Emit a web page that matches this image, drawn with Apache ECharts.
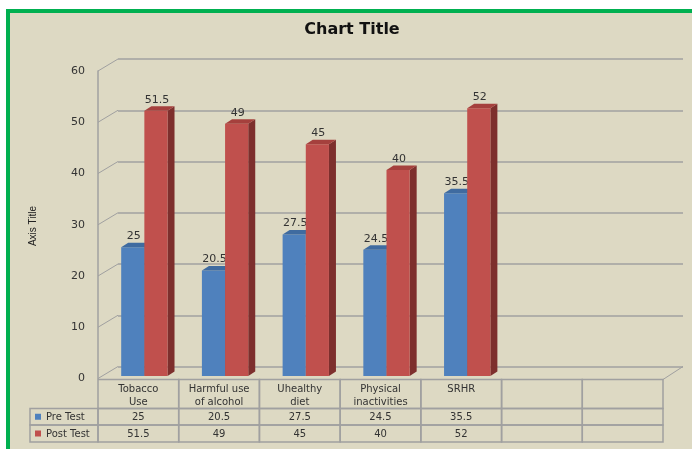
<!DOCTYPE html>
<html>
<head>
<meta charset="utf-8">
<script src="https://cdn.jsdelivr.net/npm/echarts@6/dist/echarts.min.js"></script>
<style>
html,body{margin:0;padding:0;background:#ffffff;}
#chart{width:692px;height:449px;}
</style>
</head>
<body>
<div id="chart"></div>
<script>
// ---- data ----
const categories = ["Tobacco\nUse", "Harmful use\nof alcohol", "Uhealthy\ndiet", "Physical\ninactivities", "SRHR", "", ""];
const seriesNames = ["Pre Test", "Post Test"];
const preTest = [25, 20.5, 27.5, 24.5, 35.5];
const postTest = [51.5, 49, 45, 40, 52];
const yTicks = [0, 10, 20, 30, 40, 50, 60];
const chartTitle = "Chart Title";
const axisTitle = "Axis Title";

// ---- style ----
const BG = '#ddd9c3';
const GRID = '#a0a0a0';
const TEXT = '#333333';
const NUMFONT = 'DejaVu Sans';
const DX = 20, DY = -12;       // wall depth offset
const BDX = 7, BDY = -4.5;     // bar depth offset
const colors = [
  {front: '#4f81bd', top: '#3f6ba0', side: '#2f5587'},
  {front: '#c0504d', top: '#a5403d', side: '#7d2f2d'}
];
const dataSets = [preTest, postTest];

const chart = echarts.init(document.getElementById('chart'), null, {renderer: 'canvas'});

function barRender(sIdx) {
  return function (params, api) {
    const v = api.value(1);
    const c = api.coord([api.value(0), v]);
    const base = api.coord([api.value(0), 0]);
    const band = api.size([1, 0])[0];
    const bw = band * 0.287;
    const x0 = sIdx === 0 ? c[0] - bw : c[0];
    const x1 = x0 + bw;
    const yT = c[1], y0 = base[1];
    const col = colors[sIdx];
    return {
      type: 'group',
      children: [
        {type: 'polygon', shape: {points: [[x1, yT], [x1 + BDX, yT + BDY], [x1 + BDX, y0 + BDY], [x1, y0]]}, style: {fill: col.side}},
        {type: 'rect', shape: {x: x0, y: yT, width: bw, height: y0 - yT}, style: {fill: col.front}},
        {type: 'polygon', shape: {points: [[x0, yT], [x0 + BDX, yT + BDY], [x1 + BDX, yT + BDY], [x1, yT]]}, style: {fill: col.top}},
        {type: 'text', style: {text: String(v), x: (x0 + x1) / 2 + 1, y: yT + BDY - 1, align: 'center', verticalAlign: 'bottom',
          font: '11px "' + NUMFONT + '"', fill: TEXT}}
      ]
    };
  };
}

function wallRender(params, api) {
  const v = api.value(0);
  const p = api.coord([0, v]);
  const cs = params.coordSys;
  const x = cs.x;
  const children = [
    {type: 'line', shape: {x1: x, y1: p[1], x2: x + DX, y2: p[1] + DY}, style: {stroke: GRID, lineWidth: 1}}
  ];
  if (v === 0) {
    const xr = cs.x + cs.width;
    children.push({type: 'line', shape: {x1: xr, y1: p[1] + 1, x2: xr + DX, y2: p[1] + DY}, style: {stroke: GRID, lineWidth: 1}});
  }
  return {type: 'group', children: children};
}

function tableRender(params, api) {
  const i = api.value(0);
  const c = api.coord([i, 0]);
  const band = api.size([1, 0])[0];
  const xl = c[0] - band / 2, xr = c[0] + band / 2;
  const yH = c[1] + 1, yR1 = yH + 29, yR2 = yR1 + 16.5, yR3 = yR2 + 17;
  const ls = {stroke: GRID, lineWidth: 1.5, fill: null};
  const font = '10px "' + NUMFONT + '"';
  const ch = [
    {type: 'rect', shape: {x: xl, y: yH, width: band, height: yR1 - yH}, style: ls},
    {type: 'rect', shape: {x: xl, y: yR1, width: band, height: yR2 - yR1}, style: ls},
    {type: 'rect', shape: {x: xl, y: yR2, width: band, height: yR3 - yR2}, style: ls},
    {type: 'text', style: {text: categories[i], x: c[0], y: yH + 3, align: 'center', verticalAlign: 'top', font: font, fill: TEXT, lineHeight: 13}}
  ];
  dataSets.forEach(function (arr, k) {
    const val = arr[i];
    if (val !== undefined) {
      ch.push({type: 'text', style: {text: String(val), x: c[0], y: (k === 0 ? (yR1 + yR2) / 2 : (yR2 + yR3) / 2) + 0.5,
        align: 'center', verticalAlign: 'middle', font: font, fill: TEXT}});
    }
  });
  if (i === 0) {
    const lx = 30;
    ch.push({type: 'rect', shape: {x: lx, y: yR1, width: xl - lx, height: yR2 - yR1}, style: ls});
    ch.push({type: 'rect', shape: {x: lx, y: yR2, width: xl - lx, height: yR3 - yR2}, style: ls});
    seriesNames.forEach(function (nm, k) {
      const yc = k === 0 ? (yR1 + yR2) / 2 : (yR2 + yR3) / 2;
      ch.push({type: 'rect', shape: {x: 35, y: yc - 3, width: 6, height: 6}, style: {fill: colors[k].front}});
      ch.push({type: 'text', style: {text: nm, x: 46, y: yc + 0.5, align: 'left', verticalAlign: 'middle', font: font, fill: TEXT}});
    });
  }
  return {type: 'group', children: ch};
}

const catIdx = categories.map(function (_, i) { return [i]; });

const option = {
  backgroundColor: '#ffffff',
  animation: false,
  graphic: [
    {type: 'rect', z: -10, shape: {x: 8, y: 11, width: 700, height: 450}, style: {fill: BG, stroke: '#00b050', lineWidth: 4}, silent: true},
    {type: 'text', z: 10, style: {text: chartTitle, x: 352, y: 30, align: 'center', verticalAlign: 'middle', font: 'bold 16px "DejaVu Sans"', fill: '#111'}},
    {type: 'text', z: 10, rotation: Math.PI / 2, x: 33, y: 226, style: {text: axisTitle, align: 'center', verticalAlign: 'middle', font: '10px "Liberation Sans"', fill: '#222'}}
  ],
  grid: [
    {left: 98, right: 29, top: 71, bottom: 70.5},
    {left: 118, right: 9, top: 59, bottom: 82.5},
    {left: 104, right: 23, top: 67, bottom: 73}
  ],
  xAxis: [
    {gridIndex: 0, type: 'category', data: categories, show: false},
    {gridIndex: 1, type: 'category', data: categories, show: false},
    {gridIndex: 2, type: 'category', data: categories, show: false}
  ],
  yAxis: [
    {gridIndex: 0, type: 'value', min: 0, max: 60, interval: 10,
      axisLine: {show: true, lineStyle: {color: GRID, width: 1.5}}, axisTick: {show: false}, splitLine: {show: false},
      axisLabel: {color: TEXT, fontFamily: NUMFONT, fontSize: 11, margin: 13}},
    {gridIndex: 1, type: 'value', min: 0, max: 60, interval: 10,
      axisLine: {show: false}, axisTick: {show: false}, axisLabel: {show: false},
      splitLine: {show: true, lineStyle: {color: GRID, width: 1.5}}},
    {gridIndex: 2, type: 'value', min: 0, max: 60, interval: 10, show: false, splitLine: {show: false}}
  ],
  series: [
    {type: 'custom', name: 'wall', xAxisIndex: 0, yAxisIndex: 0, data: yTicks.map(function (t) { return [t]; }),
      renderItem: wallRender, silent: true, z: 1},
    {type: 'custom', name: seriesNames[0], xAxisIndex: 2, yAxisIndex: 2,
      data: preTest.map(function (v, i) { return [i, v]; }), renderItem: barRender(0), z: 3},
    {type: 'custom', name: seriesNames[1], xAxisIndex: 2, yAxisIndex: 2,
      data: postTest.map(function (v, i) { return [i, v]; }), renderItem: barRender(1), z: 4},
    {type: 'custom', name: 'table', xAxisIndex: 0, yAxisIndex: 0, data: catIdx,
      renderItem: tableRender, silent: true, z: 5}
  ]
};
chart.setOption(option);
</script>
</body>
</html>
